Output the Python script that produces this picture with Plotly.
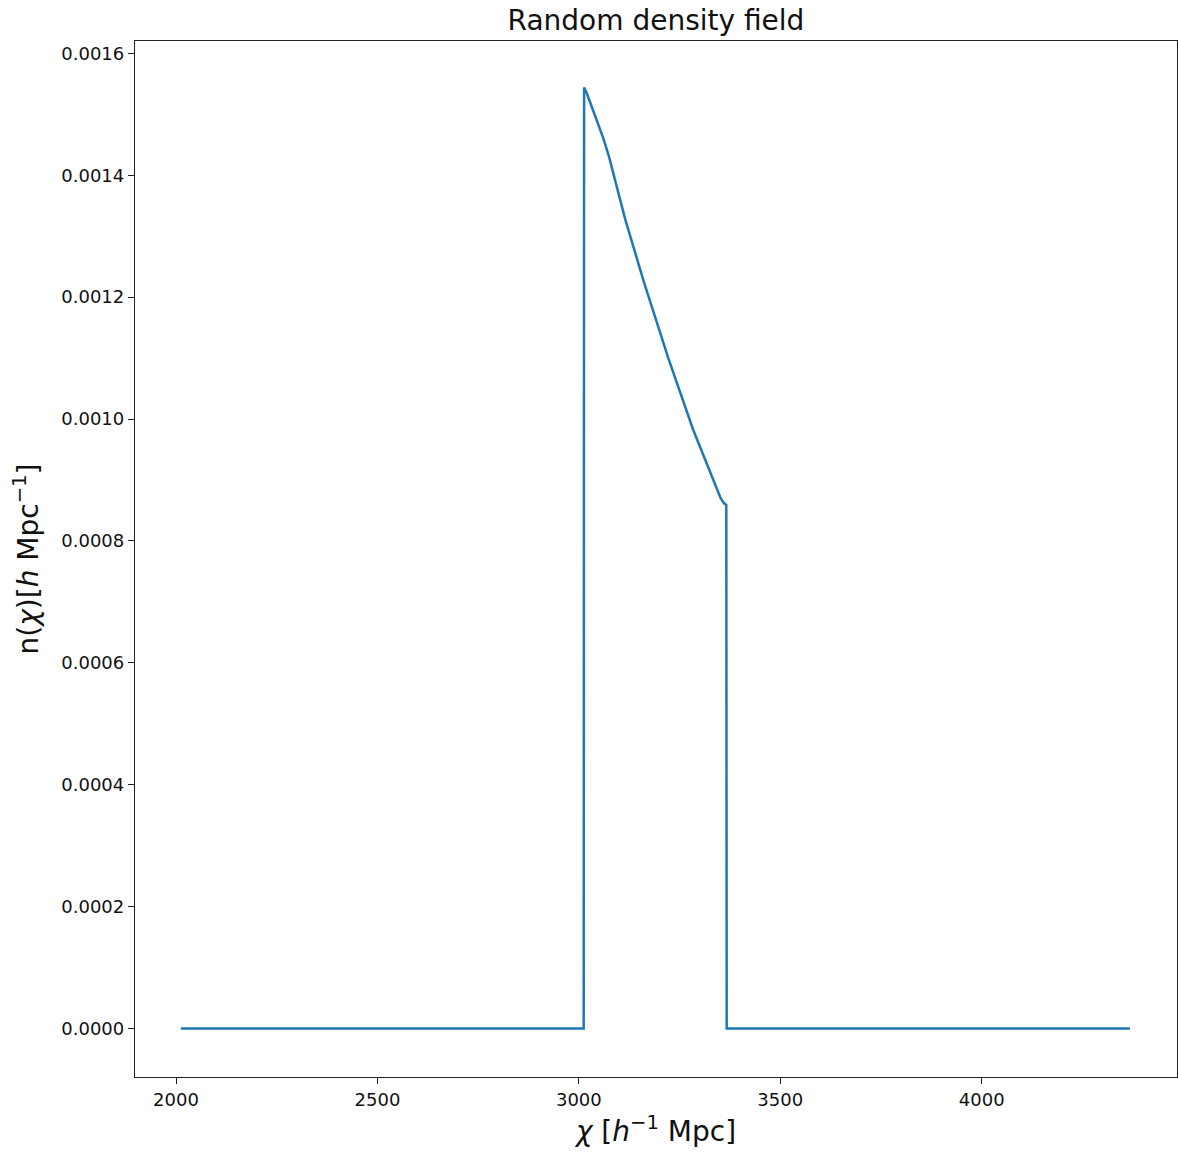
import plotly.graph_objects as go

# Comoving distance chi [h^-1 Mpc] and number density n(chi) [h Mpc^-1]
chi = [2012, 3012, 3013, 3020, 3030, 3044, 3061, 3075, 3088, 3098, 3115,
       3160, 3214, 3222, 3284, 3342, 3352, 3360, 3366, 3367, 4368]
n_chi = [0.0, 0.0, 0.001544, 0.001534, 0.001516, 0.001490, 0.001460, 0.001430,
         0.001398, 0.001370, 0.001328, 0.001228, 0.001113, 0.001100, 0.000982,
         0.000885, 0.000870, 0.000862, 0.000859, 0.0, 0.0]

x_ticks = [2000, 2500, 3000, 3500, 4000]
y_ticks = [0.0, 0.0002, 0.0004, 0.0006, 0.0008, 0.0010, 0.0012, 0.0014, 0.0016]

font_family = "DejaVu Sans"
axis_color = "#222222"

fig = go.Figure()
fig.add_trace(go.Scatter(
    x=chi, y=n_chi, mode="lines",
    line=dict(color="#1f77b4", width=2.5),
    showlegend=False,
))

axis_common = dict(
    showgrid=False, zeroline=False,
    showline=True, mirror=True, linecolor=axis_color, linewidth=1.3,
    ticks="outside", ticklen=6, tickwidth=1.2, tickcolor=axis_color,
    tickfont=dict(family=font_family, size=18, color="#111"),
)

fig.update_layout(
    width=1178, height=1155,
    margin=dict(l=135, r=1, t=41, b=78),
    paper_bgcolor="white", plot_bgcolor="white",
    title=dict(
        text="Random density field",
        font=dict(family=font_family, size=28, color="#111"),
        x=0.5, xref="paper", y=1 - 20 / 1155, yref="container",
        xanchor="center", yanchor="middle",
    ),
    xaxis=dict(
        range=[1898.2, 4484.8],
        tickvals=x_ticks, ticktext=[str(v) for v in x_ticks],
        title=dict(text="<i>χ</i> [<i>h</i><sup>−1</sup> Mpc]",
                   font=dict(family=font_family, size=28, color="#111"),
                   standoff=12),
        **axis_common,
    ),
    yaxis=dict(
        range=[-0.0000796, 0.0016202],
        tickvals=y_ticks, ticktext=[f"{v:.4f}" for v in y_ticks],
        title=dict(text="n(<i>χ</i>)[<i>h</i> Mpc<sup>−1</sup>]",
                   font=dict(family=font_family, size=28, color="#111"),
                   standoff=14),
        **axis_common,
    ),
)

fig.write_html("out.html")
